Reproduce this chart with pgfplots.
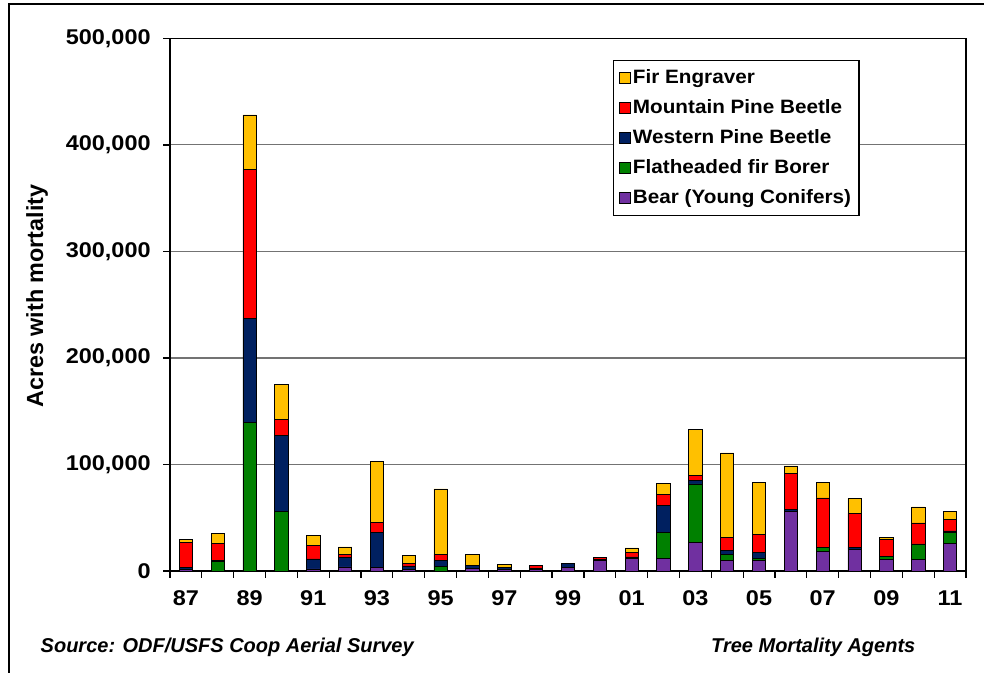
\documentclass[border=0pt]{standalone}
\usepackage{fontspec}
\setmainfont{Liberation Sans}
\newfontfamily\tickfont[FakeStretch=1.1]{Liberation Sans}
\newfontfamily\legfont[FakeStretch=1.07]{Liberation Sans}
\usepackage{pgfplots}
\usepackage{pgfplotstable}
\pgfplotsset{compat=1.18}
\definecolor{firY}{HTML}{FFC000}
\definecolor{mpbR}{HTML}{FF0000}
\definecolor{wpbB}{HTML}{002060}
\definecolor{borG}{HTML}{008000}
\definecolor{bearP}{HTML}{7030A0}

\pgfplotstableread{
x  bear  borer  wpb   mpb    fir
0  1500  0      1900  23800  2500
1  0     9000   1000  15600  10000
2  0     139600 97700 139300 51600
3  0     56300  71000 15000  33200
4  1900  0      9400  13100  8800
5  3800  0      8500  3400   6900
6  3400  0      33200 9400   57000
7  1600  0      3100  2800   6900
8  0     4000   6300  5300   61400
9  2800  0      2500  0      10300
10 1600  0      1900  0      2800
11 1500  0      500   3000   0
12 3400  0      4000  0      0
13 10300 0      500   1500   500
14 11600 0      1600  4400   4000
15 11900 24400  25000 10300  10600
16 26600 55100  3400  5000   43200
17 10000 5300   4100  12500  78900
18 10000 2200   5300  16600  49100
19 56000 0      1600  33800  7200
20 18500 3800   0     46300  14700
21 20300 0      1900  31900  14100
22 11000 2500   0     16300  1900
23 11000 14400  0     19700  15000
24 25700 10600  1300  10600  8100
}\datatable

\begin{document}
\begin{tikzpicture}[x=0.75pt,y=0.75pt]
\useasboundingbox (0,0) rectangle (984,673);
\draw[line width=0.8pt] (9,0) -- (9,669) -- (984,669);
\begin{axis}[
  at={(127.5pt,76.5pt)}, anchor=south west,
  scale only axis, width=597pt, height=399.4pt,
  ybar stacked, bar width=10pt,
  xmin=-0.5, xmax=24.5, ymin=0, ymax=500000,
  axis line style={line width=1pt},
  xtick pos=bottom, ytick pos=left,
  xtick={-0.5,0.5,...,24.5},
  xticklabels={87,,89,,91,,93,,95,,97,,99,,01,,03,,05,,07,,09,,11,},
  ytick={0,100000,200000,300000,400000,500000},
  yticklabels={0,{100,000},{200,000},{300,000},{400,000},{500,000}},
  scaled y ticks=false,
  major tick length=0pt,
  ymajorgrids, major grid style={black!55, line width=0.8pt},
  xticklabel style={font=\fontsize{16}{18}\tickfont\bfseries, xshift=11.94pt, yshift=-11pt},
  yticklabel style={font=\fontsize{16}{18}\tickfont\bfseries, xshift=-11pt},
  every axis y label/.style={at={(axis description cs:-0.167,0.516)}, rotate=90, anchor=center, font=\fontsize{17.5}{20}\selectfont\bfseries},
  ylabel={Acres with mortality},
  reverse legend,
  legend cell align=left,
  legend style={at={(rel axis cs:0.5565,0.9597)}, anchor=north west, draw=black, line width=0.8pt,
    font=\fontsize{14.5}{16}\legfont\bfseries, row sep=6.5pt, inner xsep=4pt, inner ysep=5pt},
  sq/.style={legend image code/.code={\draw[##1,draw=black,line width=0.6pt] (0pt,-4pt) rectangle (8pt,4pt);}},
  every axis plot/.append style={draw=black, line width=0.6pt},
]
\addplot[fill=bearP, sq] table[x=x, y=bear] {\datatable};
\addplot[fill=borG, sq] table[x=x, y=borer] {\datatable};
\addplot[fill=wpbB, sq] table[x=x, y=wpb] {\datatable};
\addplot[fill=mpbR, sq] table[x=x, y=mpb] {\datatable};
\addplot[fill=firY, sq] table[x=x, y=fir] {\datatable};
\legend{Bear (Young Conifers), Flatheaded fir Borer, Western Pine Beetle, Mountain Pine Beetle, Fir Engraver}
\end{axis}
% tick marks outside the axis frame
\foreach \k in {0,...,25} {
  \draw[black, line width=0.9pt] (170+\k*31.84,102) -- ++(0,-7);
}
\foreach \k in {0,...,5} {
  \draw[black, line width=0.9pt] (170,102+\k*106.5) -- ++(-7,0);
}
\node[anchor=west, font=\fontsize{15}{18}\selectfont\bfseries\itshape] at (36,26) {Source: ODF/USFS Coop Aerial Survey};
\node[anchor=east, font=\fontsize{15}{18}\selectfont\bfseries\itshape] at (920,26) {Tree Mortality Agents};
\end{tikzpicture}
\end{document}
